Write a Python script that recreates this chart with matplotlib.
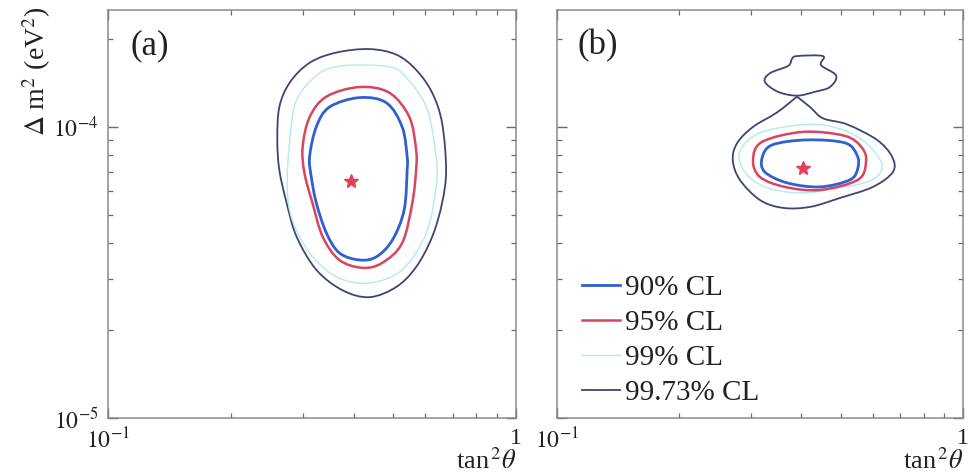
import numpy as np
import matplotlib
matplotlib.use("Agg")
import matplotlib.pyplot as plt
from matplotlib.path import Path
from matplotlib.patches import PathPatch
from matplotlib.lines import Line2D
from matplotlib.ticker import NullFormatter

plt.rcParams["font.family"] = ["Liberation Serif", "DejaVu Serif"]
plt.rcParams["mathtext.fontset"] = "stix"

# ---------------------------------------------------------------------------
# Allowed-region contours: tan^2(theta) and Delta m^2 (in units of 1e-5 eV^2)
# ---------------------------------------------------------------------------
DM2_UNIT = 1e-5

levels = ["90% CL", "95% CL", "99% CL", "99.73% CL"]
level_colors = ["#2f5fd0", "#d9445e", "#b4eaee", "#3e4474"]
level_widths = [2.0, 1.8, 1.0, 1.3]

# panel (a)
a90_tan = [0.413, 0.481, 0.526, 0.541, 0.541, 0.532, 0.498, 0.455, 0.413, 0.369,
           0.343, 0.324, 0.315, 0.312, 0.324, 0.349]
a90_dm2 = [12.6, 12.1, 10.0, 7.89, 7.11, 5.19, 4.09, 3.58, 3.49, 3.69,
           4.32, 5.48, 6.73, 7.89, 10.0, 11.7]
a95_tan = [0.413, 0.489, 0.548, 0.569, 0.569, 0.557, 0.526, 0.470, 0.420, 0.369,
           0.336, 0.317, 0.303, 0.300, 0.312, 0.343]
a95_dm2 = [13.7, 13.1, 10.8, 8.34, 7.11, 5.48, 3.99, 3.41, 3.28, 3.49,
           4.19, 5.48, 6.95, 8.54, 10.8, 12.7]
a99_tan = [0.430, 0.484, 0.526, 0.603, 0.637, 0.637, 0.603, 0.526, 0.437, 0.363,
           0.312, 0.283, 0.275, 0.279, 0.290, 0.330, 0.375]
a99_dm2 = [16.3, 16.1, 15.3, 11.7, 7.89, 6.22, 4.32, 3.23, 2.91, 3.05,
           3.69, 4.79, 6.22, 9.02, 12.4, 15.3, 16.2]
a9973_tan = [0.437, 0.509, 0.569, 0.623, 0.659, 0.674, 0.659, 0.623, 0.569, 0.509,
             0.437, 0.375, 0.324, 0.290, 0.274, 0.263, 0.260, 0.263, 0.279, 0.312, 0.363]
a9973_dm2 = [18.5, 17.7, 15.7, 13.1, 10.3, 7.11, 5.48, 4.19, 3.30, 2.82,
             2.60, 2.75, 3.23, 4.19, 5.48, 7.11, 9.02, 11.7, 14.2, 16.6, 18.0]
a_best_tan = 0.395
a_best_dm2 = 6.52

# panel (b)
b90_tan = [0.413, 0.512, 0.548, 0.551, 0.527, 0.444, 0.369, 0.325, 0.320, 0.339]
b90_dm2 = [9.02, 8.81, 8.01, 7.23, 6.58, 6.22, 6.42, 7.00, 7.82, 8.67]
b95_tan = [0.404, 0.512, 0.564, 0.577, 0.551, 0.444, 0.364, 0.316, 0.304, 0.320]
b95_dm2 = [9.61, 9.31, 8.47, 7.58, 6.58, 6.07, 6.22, 6.73, 7.70, 8.88]
b99_tan = [0.413, 0.498, 0.577, 0.632, 0.597, 0.498, 0.397, 0.325, 0.290, 0.282, 0.316]
b99_dm2 = [10.2, 9.84, 8.81, 7.40, 6.58, 6.17, 5.93, 6.22, 7.00, 8.20, 9.54]
b9973_tan = [0.390, 0.348, 0.304, 0.278, 0.271, 0.282, 0.316, 0.360, 0.420, 0.498,
             0.600, 0.672, 0.669, 0.614, 0.518, 0.452, 0.420]
b9973_dm2 = [12.7, 11.2, 10.0, 8.81, 7.70, 6.58, 5.61, 5.27, 5.31, 5.70,
             6.22, 7.00, 7.89, 9.02, 10.2, 10.7, 11.7]
b9973_island_tan = [0.325, 0.335, 0.371, 0.379, 0.390, 0.452, 0.447, 0.487, 0.470,
                    0.432, 0.390, 0.350]
b9973_island_dm2 = [14.3, 15.3, 16.2, 17.1, 17.5, 17.5, 16.3, 15.0, 13.7,
                    13.2, 12.8, 13.2]
b_best_tan = 0.404
b_best_dm2 = 7.23

# axis ticks
x_ticks = [0.1, 1.0]
x_tick_labels = [r"$10^{-1}$", "1"]
y_ticks = [1e-5, 1e-4]
y_tick_labels = [r"$10^{-5}$", r"$10^{-4}$"]
x_range = (0.1, 1.0)
y_range = (1e-5, 2.52e-4)


def smooth_loop(tan, dm2, corners=()):
    """Closed Catmull-Rom curve through the vertices, built in log space."""
    p = np.column_stack([np.log10(tan), np.log10(np.asarray(dm2) * DM2_UNIT)])
    n = len(p)
    t = (np.roll(p, -1, axis=0) - np.roll(p, 1, axis=0)) / 2.0
    for i in corners:
        t[i] = 0.0
    verts = [p[0]]
    codes = [Path.MOVETO]
    for i in range(n):
        j = (i + 1) % n
        verts += [p[i] + t[i] / 3.0, p[j] - t[j] / 3.0, p[j]]
        codes += [Path.CURVE4] * 3
    return Path(10 ** np.array(verts), codes)


def draw_loop(ax, tan, dm2, k, corners=()):
    patch = PathPatch(smooth_loop(tan, dm2, corners), facecolor="none",
                      edgecolor=level_colors[k], lw=level_widths[k],
                      joinstyle="round", zorder=3 - k * 0.1)
    ax.add_patch(patch)


def style_axes(ax, show_y_labels):
    ax.set_xscale("log")
    ax.set_yscale("log")
    ax.set_xlim(*x_range)
    ax.set_ylim(*y_range)
    ax.set_xticks(x_ticks)
    ax.set_xticklabels(x_tick_labels)
    ax.set_yticks(y_ticks)
    if show_y_labels:
        ax.set_yticklabels(y_tick_labels)
    else:
        ax.set_yticklabels([])
    ax.xaxis.set_minor_formatter(NullFormatter())
    ax.yaxis.set_minor_formatter(NullFormatter())
    ax.tick_params(which="both", direction="in", top=True, right=True,
                   color="#6a6a6a", labelsize=17, labelcolor="#222222")
    ax.tick_params(which="major", length=7, width=1.0, pad=7)
    ax.tick_params(which="minor", length=3.5, width=0.9)
    for s in ax.spines.values():
        s.set_color("#8a8a8a")
        s.set_linewidth(1.1)
    ax.text(1.0, -0.124, r"tan$^{\,2}\theta$", transform=ax.transAxes,
            ha="right", va="baseline", fontsize=19, color="#222222")


fig = plt.figure(figsize=(9.68, 4.75), dpi=100)
ax_a = fig.add_axes([0.11157, 0.12, 0.42149, 0.85895])
ax_b = fig.add_axes([0.57541, 0.12, 0.41942, 0.85895])

style_axes(ax_a, True)
style_axes(ax_b, False)

# panel (a)
draw_loop(ax_a, a9973_tan, a9973_dm2, 3)
draw_loop(ax_a, a99_tan, a99_dm2, 2)
draw_loop(ax_a, a95_tan, a95_dm2, 1)
draw_loop(ax_a, a90_tan, a90_dm2, 0)
ax_a.plot([a_best_tan], [a_best_dm2 * DM2_UNIT], marker="*", ms=10,
          color="#e0405c", mec="#e0405c", ls="none", zorder=5)

# panel (b)
draw_loop(ax_b, b9973_tan, b9973_dm2, 3, corners=(0,))
draw_loop(ax_b, b9973_island_tan, b9973_island_dm2, 3)
draw_loop(ax_b, b99_tan, b99_dm2, 2)
draw_loop(ax_b, b95_tan, b95_dm2, 1)
draw_loop(ax_b, b90_tan, b90_dm2, 0)
ax_b.plot([b_best_tan], [b_best_dm2 * DM2_UNIT], marker="*", ms=10,
          color="#e0405c", mec="#e0405c", ls="none", zorder=5)

ax_a.text(0.103, 0.912, "(a)", transform=ax_a.transAxes, ha="center",
          va="center", fontsize=25, color="#222222")
ax_b.text(0.101, 0.912, "(b)", transform=ax_b.transAxes, ha="center",
          va="center", fontsize=25, color="#222222")

ax_a.text(-0.174, 1.008, r"$\Delta$ m$^{2}$ (eV$^{2}$)", transform=ax_a.transAxes,
          rotation=90, ha="center", va="top", fontsize=20, color="#222222")

handles = [Line2D([], [], color=c, lw=w) for c, w in zip(level_colors, level_widths)]
ax_b.legend(handles, levels, loc="upper left", bbox_to_anchor=(0.062, 0.352),
            frameon=False, fontsize=21, handlelength=1.3, handletextpad=0.17,
            labelspacing=0.3, borderpad=0, borderaxespad=0,
            labelcolor="#222222")

fig.savefig("out.png", dpi=100)
